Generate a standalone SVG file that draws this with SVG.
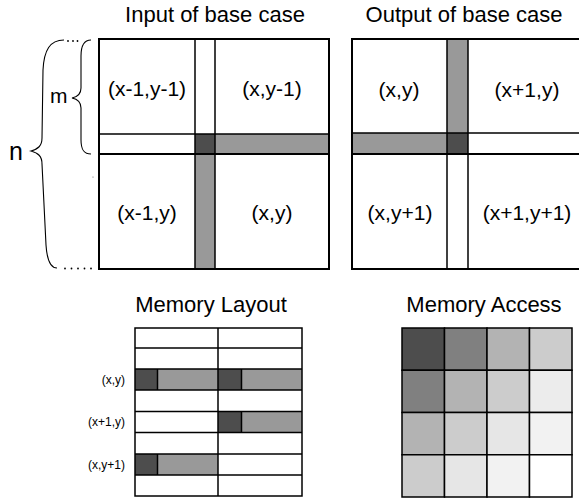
<svg xmlns="http://www.w3.org/2000/svg" width="579" height="499" viewBox="0 0 579 499">
<style>
text{font-family:"Liberation Sans",Arial,sans-serif;fill:#000}
.title{font-size:22px;text-anchor:middle}
.cell{font-size:21px;text-anchor:middle}
.ml{font-size:12px;text-anchor:end}
.ln{stroke:#000;stroke-width:1.5;fill:none}
.bd{stroke:#000;stroke-width:2;fill:none}
.br{stroke:#000;stroke-width:1.1;fill:none}
.dk{fill:#4d4d4d}
.gr{fill:#999999}
</style>
<rect width="579" height="499" fill="#fff"/>
<g id="input-block">
<text class="title" x="215" y="22">Input of base case</text>
<rect x="99" y="39" width="230" height="230" fill="#fff"/>
<rect class="dk" x="195" y="134" width="20" height="20"/>
<rect class="gr" x="215" y="134" width="114" height="20"/>
<rect class="gr" x="195" y="154" width="20" height="115"/>
<line class="ln" x1="195" y1="39" x2="195" y2="269"/>
<line class="ln" x1="215" y1="39" x2="215" y2="269"/>
<line class="ln" x1="99" y1="134" x2="329" y2="134"/>
<line class="bd" x1="99" y1="154" x2="329" y2="154"/>
<rect class="bd" x="99" y="39" width="230" height="230"/>
<text class="cell" x="147" y="96">(x-1,y-1)</text>
<text class="cell" x="272" y="96">(x,y-1)</text>
<text class="cell" x="147" y="220">(x-1,y)</text>
<text class="cell" x="272" y="220">(x,y)</text>
</g>
<g id="output-block">
<text class="title" x="464" y="22">Output of base case</text>
<rect x="352" y="39" width="230" height="230" fill="#fff"/>
<rect class="gr" x="447" y="39" width="21" height="94"/>
<rect class="gr" x="352" y="133" width="95" height="21"/>
<rect class="dk" x="447" y="133" width="21" height="21"/>
<line class="ln" x1="447" y1="39" x2="447" y2="269"/>
<line class="ln" x1="468" y1="39" x2="468" y2="269"/>
<line class="ln" x1="352" y1="133" x2="582" y2="133"/>
<line class="bd" x1="352" y1="154" x2="582" y2="154"/>
<rect class="bd" x="352" y="39" width="230" height="230"/>
<text class="cell" x="399" y="97">(x,y)</text>
<text class="cell" x="527" y="97">(x+1,y)</text>
<text class="cell" x="400" y="220">(x,y+1)</text>
<text class="cell" x="527" y="220">(x+1,y+1)</text>
</g>
<g id="braces">
<path class="br" d="M64,40 C50,40 44,50 43,70 L42,138 C42,146 38,149 31,151 C38,153 42,156 42,164 L46,245 C47,260 50,268 57,268"/>
<path class="br" d="M91,40 C84,40 81,46 81,56 L81,88 C81,94 77,97 72,98 C77,99 81,102 81,108 L81,140 C81,150 84,154 91,154"/>
<g fill="#000">
<circle cx="68" cy="41" r="0.9"/><circle cx="73" cy="41" r="0.9"/><circle cx="77.5" cy="41" r="0.9"/>
<circle cx="65" cy="268.5" r="0.9"/><circle cx="71.5" cy="268.5" r="0.9"/><circle cx="78" cy="268.5" r="0.9"/><circle cx="84.5" cy="268.5" r="0.9"/><circle cx="91" cy="268.5" r="0.9"/>
<circle cx="93" cy="177" r="0.6" fill="#666"/>
</g>
<text x="50" y="103" font-size="21">m</text>
<text x="9" y="160" font-size="25">n</text>
</g>
<g id="memory-layout">
<text class="title" x="211" y="312">Memory Layout</text>
<rect class="dk" x="135" y="369" width="22.5" height="21"/>
<rect class="gr" x="157.5" y="369" width="60.5" height="21"/>
<rect class="dk" x="218" y="369" width="23.5" height="21"/>
<rect class="gr" x="241.5" y="369" width="60.5" height="21"/>
<rect class="dk" x="218" y="411.5" width="23.5" height="21"/>
<rect class="gr" x="241.5" y="411.5" width="60.5" height="21"/>
<rect class="dk" x="135" y="454" width="22.5" height="21"/>
<rect class="gr" x="157.5" y="454" width="60.5" height="21"/>
<g class="ln">
<line x1="157.5" y1="369" x2="157.5" y2="390"/>
<line x1="241.5" y1="369" x2="241.5" y2="390"/>
<line x1="241.5" y1="411.5" x2="241.5" y2="432.5"/>
<line x1="157.5" y1="454" x2="157.5" y2="475"/>
<line x1="135" y1="348" x2="302" y2="348"/>
<line x1="135" y1="369" x2="302" y2="369"/>
<line x1="135" y1="390" x2="302" y2="390"/>
<line x1="135" y1="411.5" x2="302" y2="411.5"/>
<line x1="135" y1="432.5" x2="302" y2="432.5"/>
<line x1="135" y1="454" x2="302" y2="454"/>
<line x1="135" y1="475" x2="302" y2="475"/>
<line x1="218" y1="328" x2="218" y2="496"/>
<rect x="135" y="328" width="167" height="168"/>
</g>
<text class="ml" x="125" y="384">(x,y)</text>
<text class="ml" x="125" y="426">(x+1,y)</text>
<text class="ml" x="125" y="469">(x,y+1)</text>
</g>
<g id="memory-access">
<text class="title" x="484" y="312">Memory Access</text>
<g stroke="#000" stroke-width="1.5">
<rect x="402" y="328" width="42.5" height="42.25" fill="#4d4d4d"/>
<rect x="444.5" y="328" width="42.5" height="42.25" fill="#808080"/>
<rect x="487" y="328" width="42.5" height="42.25" fill="#b3b3b3"/>
<rect x="529.5" y="328" width="42.5" height="42.25" fill="#cccccc"/>
<rect x="402" y="370.25" width="42.5" height="42.25" fill="#808080"/>
<rect x="444.5" y="370.25" width="42.5" height="42.25" fill="#b3b3b3"/>
<rect x="487" y="370.25" width="42.5" height="42.25" fill="#cccccc"/>
<rect x="529.5" y="370.25" width="42.5" height="42.25" fill="#ececec"/>
<rect x="402" y="412.5" width="42.5" height="42.25" fill="#b3b3b3"/>
<rect x="444.5" y="412.5" width="42.5" height="42.25" fill="#cccccc"/>
<rect x="487" y="412.5" width="42.5" height="42.25" fill="#e6e6e6"/>
<rect x="529.5" y="412.5" width="42.5" height="42.25" fill="#f2f2f2"/>
<rect x="402" y="454.75" width="42.5" height="42.25" fill="#cccccc"/>
<rect x="444.5" y="454.75" width="42.5" height="42.25" fill="#e6e6e6"/>
<rect x="487" y="454.75" width="42.5" height="42.25" fill="#f2f2f2"/>
<rect x="529.5" y="454.75" width="42.5" height="42.25" fill="#ffffff"/>
</g>
</g>
</svg>
